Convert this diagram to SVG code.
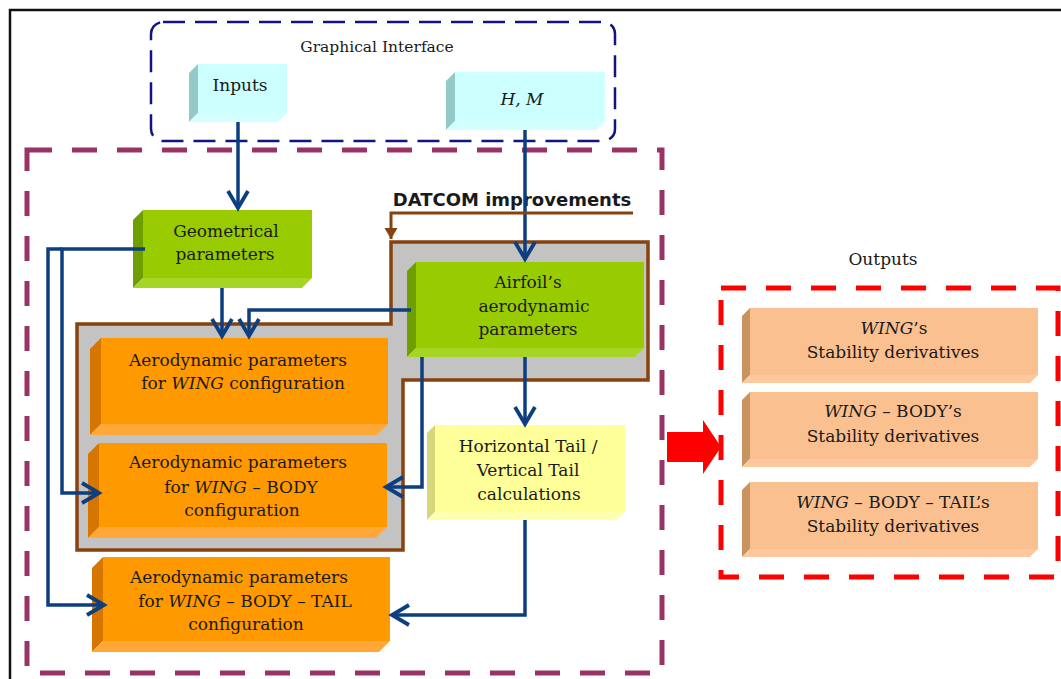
<svg xmlns="http://www.w3.org/2000/svg" width="1061" height="679" viewBox="0 0 1061 679">
<style>
.t{font-family:"DejaVu Serif","Liberation Serif",serif;font-size:17px;fill:#1a1a1a;text-anchor:middle}
.i{font-style:italic}
.conn{fill:none;stroke:#0d3f80;stroke-width:3.5;stroke-linejoin:miter}
.cy .f{fill:#ccffff}.cy .s{fill:#93c9c9}.cy .b{fill:#d4ffff}
.gr .f{fill:#99cc00}.gr .s{fill:#6e9e00}.gr .b{fill:#a6d526}
.or .f{fill:#ff9900}.or .s{fill:#d67500}.or .b{fill:#ffa838}
.ye .f{fill:#ffff99}.ye .s{fill:#d6d67a}.ye .b{fill:#ffffb0}
.pe .f{fill:#fac090}.pe .s{fill:#c8935e}.pe .b{fill:#fcc99e}
</style>
<defs>
<marker id="ah" markerUnits="userSpaceOnUse" markerWidth="26" markerHeight="26" viewBox="0 0 26 26" refX="21" refY="13" orient="auto">
<path d="M4,3 L21,13 L4,23" fill="none" stroke="#0d3f80" stroke-width="3.8"/>
</marker>
<marker id="bh" markerUnits="userSpaceOnUse" markerWidth="14" markerHeight="14" viewBox="0 0 14 14" refX="12" refY="7" orient="auto">
<path d="M1,0.5 L12,7 L1,13.5 z" fill="#86420f"/>
</marker>
</defs>
<rect width="1061" height="679" fill="#ffffff"/>
<path d="M10,679 V10 H1061" fill="none" stroke="#111" stroke-width="2.5"/>

<g id="graphical-interface">
<rect x="151" y="22" width="464" height="119" rx="12" fill="none" stroke="#141480" stroke-width="2.5" stroke-dasharray="22 10"/>
<text class="t" x="377" y="52" style="font-size:15.5px">Graphical Interface</text>
</g>

<g id="main-frame">
<rect x="27" y="150" width="635" height="523" fill="none" stroke="#993366" stroke-width="5" stroke-dasharray="25 20"/>
</g>

<g id="datcom-region">
<path d="M77,324 H391 V242 H648 V380 H403 V550 H77 Z" fill="#c3c3c3" stroke="#86420f" stroke-width="3.5"/>
<text x="512" y="206" style="font-family:'DejaVu Sans','Liberation Sans',sans-serif;font-weight:bold;font-size:18px;fill:#1a1a1a;text-anchor:middle">DATCOM improvements</text>
</g>

<g id="inputs" class="cy">
<rect class="f" x="198" y="64" width="89" height="49"/>
<polygon class="s" points="189,73 198,64 198,113 189,122"/>
<polygon class="b" points="189,122 198,113 287,113 278,122"/>
<text class="t" x="240" y="91">Inputs</text>
</g>

<g id="hm" class="cy">
<rect class="f" x="455" y="72" width="150" height="49"/>
<polygon class="s" points="446,81 455,72 455,121 446,130"/>
<polygon class="b" points="446,130 455,121 605,121 596,130"/>
<text class="t i" x="522" y="105">H, M</text>
</g>

<g id="geometrical" class="gr">
<rect class="f" x="143" y="210" width="169" height="68"/>
<polygon class="s" points="133,220 143,210 143,278 133,288"/>
<polygon class="b" points="133,288 143,278 312,278 302,288"/>
<text class="t" x="226" y="237">Geometrical</text>
<text class="t" x="225" y="260">parameters</text>
</g>

<g id="airfoil" class="gr">
<rect class="f" x="416" y="262" width="228" height="86"/>
<polygon class="s" points="407,271 416,262 416,348 407,357"/>
<polygon class="b" points="407,357 416,348 644,348 635,357"/>
<text class="t" x="528" y="288">Airfoil’s</text>
<text class="t" x="534" y="312">aerodynamic</text>
<text class="t" x="528" y="335">parameters</text>
</g>

<g id="wing" class="or">
<rect class="f" x="101" y="338" width="287" height="86"/>
<polygon class="s" points="90,349 101,338 101,424 90,435"/>
<polygon class="b" points="90,435 101,424 388,424 377,435"/>
<text class="t" x="238" y="366">Aerodynamic parameters</text>
<text class="t" x="243" y="389">for <tspan class="i">WING</tspan> configuration</text>
</g>

<g id="wing-body" class="or">
<rect class="f" x="99" y="443" width="288" height="84"/>
<polygon class="s" points="88,454 99,443 99,527 88,538"/>
<polygon class="b" points="88,538 99,527 387,527 376,538"/>
<text class="t" x="238" y="468">Aerodynamic parameters</text>
<text class="t" x="241" y="493">for <tspan class="i">WING</tspan> – BODY</text>
<text class="t" x="242" y="516">configuration</text>
</g>

<g id="wing-body-tail" class="or">
<rect class="f" x="103" y="557" width="287" height="84"/>
<polygon class="s" points="92,568 103,557 103,641 92,652"/>
<polygon class="b" points="92,652 103,641 390,641 379,652"/>
<text class="t" x="239" y="583">Aerodynamic parameters</text>
<text class="t" x="245" y="607">for <tspan class="i">WING</tspan> – BODY – TAIL</text>
<text class="t" x="246" y="630">configuration</text>
</g>

<g id="tail-calc" class="ye">
<rect class="f" x="435" y="425" width="190" height="87"/>
<polygon class="s" points="427,433 435,425 435,512 427,520"/>
<polygon class="b" points="427,520 435,512 625,512 617,520"/>
<text class="t" x="528" y="452">Horizontal Tail /</text>
<text class="t" x="528" y="476">Vertical Tail</text>
<text class="t" x="529" y="500">calculations</text>
</g>

<g id="outputs">
<text class="t" x="883" y="265">Outputs</text>
<rect x="721" y="288" width="337" height="289" fill="none" stroke="#ff0000" stroke-width="5" stroke-dasharray="25 20"/>
</g>

<g id="out-wing" class="pe">
<rect class="f" x="750" y="308" width="288" height="67"/>
<polygon class="s" points="742,316 750,308 750,375 742,383"/>
<polygon class="b" points="742,383 750,375 1038,375 1030,383"/>
<text class="t" x="894" y="334"><tspan class="i">WING</tspan>’s</text>
<text class="t" x="893" y="358">Stability derivatives</text>
</g>

<g id="out-wing-body" class="pe">
<rect class="f" x="750" y="392" width="288" height="67"/>
<polygon class="s" points="742,400 750,392 750,459 742,467"/>
<polygon class="b" points="742,467 750,459 1038,459 1030,467"/>
<text class="t" x="893" y="417"><tspan class="i">WING</tspan> – BODY’s</text>
<text class="t" x="893" y="442">Stability derivatives</text>
</g>

<g id="out-wing-body-tail" class="pe">
<rect class="f" x="750" y="482" width="288" height="67"/>
<polygon class="s" points="742,490 750,482 750,549 742,557"/>
<polygon class="b" points="742,557 750,549 1038,549 1030,557"/>
<text class="t" x="893" y="508"><tspan class="i">WING</tspan> – BODY – TAIL’s</text>
<text class="t" x="893" y="532">Stability derivatives</text>
</g>

<g id="connectors">
<path class="conn" d="M238,122 V208" marker-end="url(#ah)"/>
<path class="conn" d="M525,130 V259" marker-end="url(#ah)"/>
<path class="conn" d="M222,288 V336" marker-end="url(#ah)"/>
<path class="conn" d="M411,310 H249 V336" marker-end="url(#ah)"/>
<path class="conn" d="M145,249 H62 V493 H99" marker-end="url(#ah)"/>
<path class="conn" d="M62,249 H48 V605 H104" marker-end="url(#ah)"/>
<path class="conn" d="M422,357 V487 H386" marker-end="url(#ah)"/>
<path class="conn" d="M525,357 V424" marker-end="url(#ah)"/>
<path class="conn" d="M525,520 V615 H392" marker-end="url(#ah)"/>
<path d="M633,213 H391 V239" fill="none" stroke="#86420f" stroke-width="3" marker-end="url(#bh)"/>
<polygon points="667,432 703,432 703,420 721,447 703,474 703,462 667,462" fill="#ff0000"/>
</g>
</svg>
